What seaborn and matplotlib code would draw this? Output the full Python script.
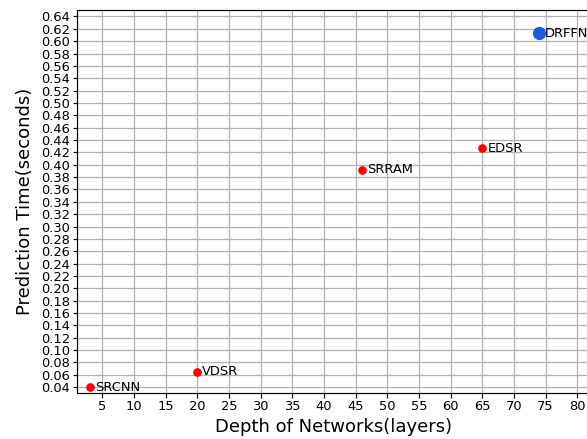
import matplotlib
matplotlib.use("Agg")
import matplotlib.pyplot as plt
import seaborn as sns
import pandas as pd
import numpy as np

models = ["SRCNN", "VDSR", "SRRAM", "EDSR", "DRFFN"]
depth = [3, 20, 46, 65, 74]
pred_time = [0.040, 0.065, 0.392, 0.427, 0.613]

x_ticks = list(range(5, 85, 5))
y_ticks = [round(v, 2) for v in np.arange(0.04, 0.6401, 0.02)]

df = pd.DataFrame({"model": models, "depth": depth, "time": pred_time})
others = df[df["model"] != "DRFFN"]
ours = df[df["model"] == "DRFFN"]

plt.rcParams["font.family"] = ["DejaVu Sans"]
fig = plt.figure(figsize=(587 / 72, 439 / 72), dpi=72)
ax = fig.add_axes([77 / 587, 45.7 / 439, 513 / 587, 383 / 439])

ax.set_axisbelow(True)
ax.grid(True, color="#b0b0b0", linewidth=1.2)

sns.scatterplot(data=others, x="depth", y="time", ax=ax, color="red",
                s=75, linewidth=0, zorder=3)
sns.scatterplot(data=ours, x="depth", y="time", ax=ax, color="#1c5cd9",
                s=175, linewidth=0, zorder=3)

for m, xv, yv in zip(models, depth, pred_time):
    ax.annotate(m, (xv, yv), xytext=(5, 0), textcoords="offset points",
                va="center", ha="left", fontsize=13)

ax.set_xlim(1, 82)
ax.set_ylim(0.03, 0.65)
ax.set_xticks(x_ticks)
ax.set_yticks(y_ticks)
ax.set_yticklabels([f"{v:.2f}" for v in y_ticks])
ax.tick_params(labelsize=13, length=4.5, width=1.2, pad=2)
for sp in ax.spines.values():
    sp.set_linewidth(1.2)

ax.set_xlabel("Depth of Networks(layers)", fontsize=18, labelpad=5)
ax.set_ylabel("Prediction Time(seconds)", fontsize=18, labelpad=7)

fig.savefig("out.png", dpi=72)
